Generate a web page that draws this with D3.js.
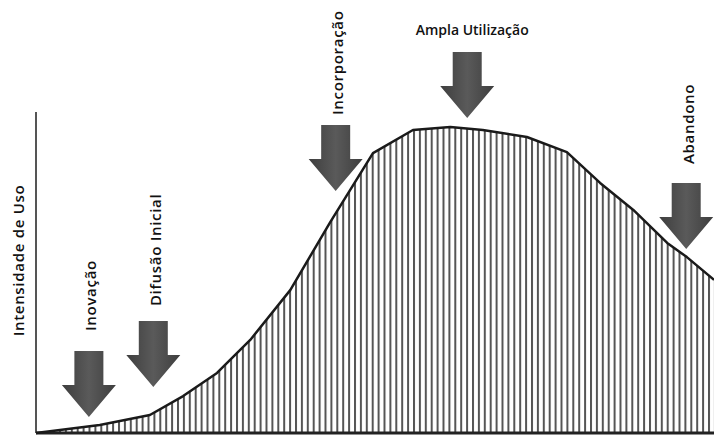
<!DOCTYPE html>
<html>
<head>
<meta charset="utf-8">
<script src="https://cdn.jsdelivr.net/npm/d3@7"></script>
<style>
  html, body { margin: 0; padding: 0; background: #fff; }
  svg { display: block; }
  text { font-family: "Open Sans", "DejaVu Sans", sans-serif; font-weight: 600; fill: #111; }
</style>
</head>
<body>
<svg id="chart" width="714" height="435"></svg>
<script>
// ---- data ----
const timeValues = [0, 9.4, 16.8, 21.7, 26.7, 31.6, 37.5, 43.4, 49.7, 55.6, 61.1, 65.9, 72.4, 78.3, 83.2, 88.1, 93.1, 96.0, 100];
const usageValues = [0, 2.5, 5.6, 11.5, 18.7, 29.0, 44.5, 65.7, 87.2, 94.4, 95.3, 94.4, 92.2, 87.5, 77.9, 69.5, 59.2, 54.8, 47.7];
const stageLabels = ["Inovação", "Difusão Inicial", "Incorporação", "Ampla Utilização", "Abandono"];
const stageTime = [7.8, 17.3, 44.2, 63.6, 95.9];
const stageTipUsage = [5.0, 14.3, 75.4, 98.1, 57.3];
const stageVertical = [true, true, true, false, true];
const yAxisTitle = "Intensidade de Uso";

// ---- layout ----
const svg = d3.select("#chart");
const x = d3.scaleLinear().domain([0, 100]).range([36, 714]);
const y = d3.scaleLinear().domain([0, 100]).range([433, 112]);
const labelGap = [20, 15, 10, 0, 19];

const defs = svg.append("defs");
const pat = defs.append("pattern")
  .attr("id", "stripes").attr("patternUnits", "userSpaceOnUse")
  .attr("width", 5.9).attr("height", 10);
pat.append("rect").attr("width", 5.9).attr("height", 10).attr("fill", "#fff");
pat.append("rect").attr("x", 0).attr("width", 2).attr("height", 10).attr("fill", "#555");

const grad = defs.append("linearGradient").attr("id", "arrowGrad")
  .attr("x1", 0).attr("x2", 1).attr("y1", 0).attr("y2", 0);
grad.append("stop").attr("offset", "0%").attr("stop-color", "#3e3e3e");
grad.append("stop").attr("offset", "50%").attr("stop-color", "#5a5a5a");
grad.append("stop").attr("offset", "100%").attr("stop-color", "#3e3e3e");

const pts = timeValues.map((t, i) => [t, usageValues[i]]);

const area = d3.area().x(d => x(d[0])).y0(y(0)).y1(d => y(d[1])).curve(d3.curveLinear);
const line = d3.line().x(d => x(d[0])).y(d => y(d[1])).curve(d3.curveLinear);

svg.append("path").datum(pts).attr("d", area).attr("fill", "url(#stripes)");

// y axis line
svg.append("line").attr("x1", x(0)).attr("x2", x(0)).attr("y1", y(100)).attr("y2", y(0))
  .attr("stroke", "#555").attr("stroke-width", 2);
// baseline
svg.append("line").attr("x1", x(0)).attr("x2", x(100)).attr("y1", y(0)).attr("y2", y(0))
  .attr("stroke", "#222").attr("stroke-width", 3);

svg.append("path").datum(pts).attr("d", line).attr("fill", "none")
  .attr("stroke", "#1a1a1a").attr("stroke-width", 2.5).attr("stroke-linejoin", "round");

// arrows
const shaftW = 29, shaftH = 34, headW = 54, headH = 32;
stageLabels.forEach((lab, i) => {
  const tx = x(stageTime[i]), ty = y(stageTipUsage[i]);
  const top = ty - headH - shaftH;
  const p = [
    [tx - shaftW / 2, top], [tx + shaftW / 2, top], [tx + shaftW / 2, ty - headH],
    [tx + headW / 2, ty - headH], [tx, ty], [tx - headW / 2, ty - headH],
    [tx - shaftW / 2, ty - headH]
  ];
  svg.append("path").attr("d", "M" + p.map(q => q.join(",")).join("L") + "Z")
    .attr("fill", "url(#arrowGrad)").attr("stroke", "#fff").attr("stroke-width", 3)
    .attr("paint-order", "stroke");
  if (stageVertical[i]) {
    const ly = top - labelGap[i];
    svg.append("text").attr("transform", `translate(${tx + 7.5},${ly}) rotate(-90)`)
      .attr("text-anchor", "start").attr("font-size", 15)
      .attr("letter-spacing", 0.7).text(lab);
  } else {
    svg.append("text").attr("x", tx + 5).attr("y", top - 17)
      .attr("text-anchor", "middle").attr("font-size", 14).text(lab);
  }
});

svg.append("text").attr("transform", `translate(23.5,${(183 + 338) / 2}) rotate(-90)`)
  .attr("text-anchor", "middle").attr("font-size", 15)
  .attr("letter-spacing", 0.7).text(yAxisTitle);
</script>
</body>
</html>
